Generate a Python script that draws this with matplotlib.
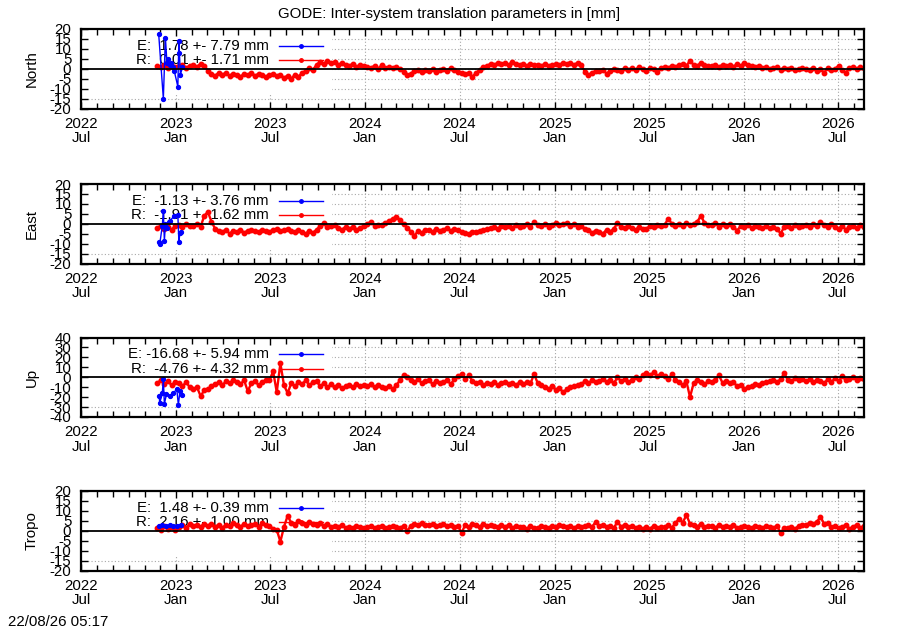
import numpy as np
import matplotlib
matplotlib.use('Agg')
import matplotlib.pyplot as plt
import matplotlib.dates as mdates
from matplotlib.patches import Rectangle

plt.rcParams['font.family'] = ['Liberation Sans', 'DejaVu Sans']
plt.rcParams['font.size'] = 10.8

TITLE = "GODE: Inter-system translation parameters in [mm]"
STAMP = "22/08/26 05:17"
panel_names = ["North", "East", "Up", "Tropo"]
ylims = [20, 20, 40, 20]
ysteps = [5, 5, 10, 5]
E_labels = ["E:  1.78 +- 7.79 mm", "E:  -1.13 +- 3.76 mm", "E: -16.68 +- 5.94 mm", "E:  1.48 +- 0.39 mm"]
R_labels = ["R:  0.01 +- 1.71 mm", "R:  -1.91 +- 1.62 mm", "R:  -4.76 +- 4.32 mm", "R:  2.16 +- 1.00 mm"]

# red (R) series: weekly samples starting 2022-11-25
red_start = "2022-11-25"
red_step_days = 7

north_red = [
    1.5, 1.0, 2.0, 0.5, 1.5, 1.0,
    1.5, 2.0, 0.5, 1.5, 2.0, 1.0, 2.5, 1.5, -1.0, -2.5, -3.5, -2.0, -3.0, -2.0, -3.5, -2.5,
    -3.0, -4.0, -2.5, -3.0, -2.0, -3.5, -2.5, -3.0, -4.0, -3.0, -2.5, -3.5, -3.0, -4.5,
    -3.5, -5.0, -3.0, -4.0, -2.0, -1.0, 0.5, -0.5, 2.0, 3.5, 2.5, 4.0, 3.0,
    3.5, 2.0, 3.0, 2.0, 1.5, 2.5, 1.0, 2.0, 1.5,
    1.0, 0.5, 1.5, 0.0, 2.0, 0.5, 1.0, 0.5, 1.0, 0.0, -1.5, -3.0, -2.5, -1.0, -0.5, -1.5, -0.5,
    -1.0, 0.0, -1.5, -0.5, 0.0, -1.0, 0.5, -0.5, -1.5, -2.0, -2.5, -2.0, -4.0,
    -2.0, -0.5, 1.0, 1.5, 2.5, 2.0, 3.0, 2.5, 3.0, 2.0, 3.5, 2.5, 2.0,
    2.5, 1.5, 2.5, 2.0, 2.0, 1.5, 2.5, 1.5, 2.0,
    2.5, 2.0, 3.0, 2.5, 3.0, 2.0, 3.0, 2.0, -1.5, -3.0, -2.0, -1.0, -1.0, -0.5, -2.5, -1.0, 0.0,
    -0.5, -1.0, 0.5, -0.5, 0.5, -0.5, 1.0, 0.0, -1.0, 0.5, 0.0, -1.5, 0.5,
    1.0, 0.5, 1.5, 1.0, 2.0, 2.5, 1.5, 4.0, 2.0, 1.5, 3.0, 2.0, 1.5,
    1.5, 2.0, 1.0, 2.0, 1.5, 2.0, 1.0, 2.5, 1.5,
    3.0, 2.0, 1.5, 1.0, 1.5, 0.5, 1.0, 0.0, 0.5, 1.0, -0.5, 0.5, 0.0, 0.5, -0.5, 0.0, 0.5,
    0.0, -0.5, 0.5, -1.0, 0.0, -2.0, 0.5, -0.5, 0.0, 1.5, -0.5, -2.0, 0.5,
    1.0, 0.0, 1.0, 0.5,
]

east_red = [
    -2.0, -1.0, -2.5, -1.5, -3.0, -1.0,
    -0.5, -1.5, 0.0, -1.0, -1.0, 0.0, -1.5, 4.0, 6.0, 1.0, -2.5, -3.5, -4.0, -3.0, -5.0, -3.5,
    -4.0, -3.0, -4.5, -3.5, -3.0, -3.5, -4.0, -3.0, -3.5, -4.0, -3.0, -2.5, -3.5, -3.0,
    -2.5, -3.5, -4.0, -3.0, -4.0, -5.0, -3.5, -4.5, -3.0, -1.0, 0.5, -1.5, -1.0,
    -0.5, -2.0, -3.0, -1.5, -2.5, -1.5, -3.0, -2.0, -1.0,
    0.0, 1.0, -1.0, -0.5, -0.5, 0.5, 1.5, 2.5, 3.5, 2.0, 0.0, -2.0, -4.0, -6.0, -3.5, -4.5, -3.0,
    -3.0, -4.0, -2.5, -3.5, -3.0, -2.0, -3.5, -2.5, -3.0, -4.0, -4.5, -5.0, -4.0,
    -4.0, -3.5, -3.0, -2.5, -2.0, -1.5, -2.5, -1.0, -1.5, -1.0, -2.0, -0.5, -1.5,
    -1.0, 0.0, -1.5, 1.0, -0.5, -1.0, 0.0, -1.5, -0.5,
    0.5, -0.5, 0.0, 0.5, -1.0, 0.0, -1.5, -1.0, -2.5, -3.0, -4.5, -3.5, -4.0, -5.0, -3.0, -4.0, -2.5,
    0.5, -1.5, -2.0, -1.0, -2.0, -3.0, -1.5, -2.5, -2.5, -1.0, -1.5, -0.5, -1.0,
    -0.5, 2.5, 0.0, -1.0, 0.0, -1.0, 0.5, -0.5, 0.0, 1.0, 4.0, 0.5, -0.5,
    -0.5, 0.5, -1.5, 0.0, -1.0, 0.0, -1.5, -3.5, -1.0,
    -1.5, -0.5, -2.0, -1.0, -1.5, -2.0, -1.0, -2.0, -1.5, -2.5, -5.0, -1.5, -1.0, -2.0, -0.5, -1.5, -1.0,
    -0.5, -1.5, 0.0, -1.0, 1.0, -0.5, -1.5, 0.0, -1.5, -2.5, -1.0, -3.0, -1.5,
    -1.0, -2.0, -0.5, -1.5,
]

up_red = [
    -6.0, -3.0, -7.0, -4.0, -8.0, -5.0,
    -6.0, -9.0, -5.0, -10.0, -12.0, -10.0, -19.0, -13.0, -12.0, -9.0, -7.0, -5.0, -8.0, -4.0, -6.0, -3.0,
    -5.0, -7.0, -3.0, -14.0, -6.0, -4.0, -8.0, -5.0, -3.0, -3.0, 6.0, -15.0, 14.0, -8.0,
    -16.0, -6.0, -9.0, -5.0, -7.0, -3.0, -8.0, -5.0, -4.0, -9.0, -6.0, -10.0, -7.0,
    -10.0, -8.0, -11.0, -9.0, -8.0, -10.0, -7.0, -9.0, -8.0,
    -9.0, -7.0, -10.0, -8.0, -10.0, -11.0, -9.0, -12.0, -8.0, -3.0, 2.0, 0.0, -3.0, -5.0, -2.0, -6.0, -4.0,
    -3.0, -7.0, -4.0, -6.0, -5.0, -3.0, -7.0, -2.0, 1.0, 3.0, -2.0, 2.0, -4.0,
    -6.0, -5.0, -8.0, -6.0, -7.0, -5.0, -8.0, -6.0, -5.0, -7.0, -6.0, -8.0, -5.0,
    -7.0, -5.0, -6.0, 3.0, -6.0, -8.0, -10.0, -12.0, -9.0,
    -13.0, -11.0, -15.0, -12.0, -10.0, -9.0, -8.0, -7.0, -4.0, -6.0, -3.0, -5.0, -4.0, -2.0, -5.0, -3.0, -6.0,
    0.0, -4.0, -2.0, -5.0, -3.0, 0.0, -2.0, 2.0, 4.0, 2.0, 5.0, 1.0, 3.0,
    1.0, -2.0, 3.0, -3.0, -5.0, -8.0, -4.0, -20.0, -6.0, -3.0, -5.0, -7.0, -4.0,
    -5.0, -3.0, 2.0, -6.0, -4.0, -6.0, -5.0, -9.0, -8.0,
    -12.0, -10.0, -9.0, -7.0, -8.0, -6.0, -5.0, -4.0, -3.0, -5.0, -2.0, 4.0, -3.0, -4.0, -1.0, -3.0, -2.0,
    -4.0, -2.0, -5.0, -3.0, -4.0, -6.0, -2.0, -5.0, -1.0, -4.0, 1.0, -3.0, -2.0,
    0.0, -3.0, -1.0, -2.0,
]

tropo_red = [
    1.5, 0.5, 2.5, 1.0, 2.0, 0.5,
    2.0, 3.0, 1.5, 3.5, 2.5, 3.0, 2.0, 3.5, 2.5, 3.5, 2.0, 3.0, 1.5, 3.0, 2.5, 4.0,
    3.0, 2.0, 3.5, 2.5, 3.0, 3.5, 2.0, 4.0, 3.0, 2.5, 1.0, 0.5, -5.5, 2.0,
    7.5, 4.0, 3.0, 5.0, 4.0, 3.0, 4.5, 3.5, 3.0, 4.0, 2.5, 3.5, 2.0,
    2.5, 2.0, 3.0, 1.5, 2.0, 1.5, 2.5, 2.0, 1.5,
    2.0, 2.5, 1.5, 2.0, 2.5, 1.5, 2.0, 2.5, 2.0, 1.5, 2.5, 0.0, 2.5, 3.5, 3.0, 4.0, 3.0,
    3.0, 3.5, 2.5, 3.0, 3.5, 2.5, 3.0, 2.0, 2.5, -1.0, 3.0, 2.0, 3.5,
    3.0, 2.0, 3.5, 2.5, 3.0, 2.5, 2.0, 3.0, 2.0, 3.0, 1.5, 2.5, 2.0,
    2.0, 1.0, 2.5, 1.5, 1.5, 2.5, 2.0, 1.5, 2.5,
    2.0, 3.0, 2.5, 2.0, 2.5, 1.5, 2.5, 2.0, 2.5, 3.0, 2.0, 4.5, 2.5, 3.0, 2.0, 2.5, 1.5,
    4.5, 2.0, 3.0, 2.0, 2.5, 1.5, 2.0, 1.0, 2.0, 1.0, 2.5, 1.5, 2.0,
    2.0, 3.0, 1.5, 4.0, 6.0, 4.0, 8.0, 3.5, 3.0, 2.0, 3.5, 2.0, 2.5,
    2.5, 1.5, 3.0, 2.0, 2.5, 2.0, 3.0, 1.5, 2.0,
    2.5, 2.0, 1.5, 2.5, 2.0, 1.5, 2.5, 2.0, 1.5, 2.5, -1.0, 1.5, 1.5, 2.0, 1.0, 2.5, 3.0,
    3.0, 4.0, 3.5, 4.5, 7.0, 3.5, 4.0, 2.0, 2.5, 1.5, 2.0, 3.0, 1.0,
    2.0, 3.0, 1.5, 2.5,
]

# blue (E) series: irregular dates
north_blue_dates = ["2022-11-28", "2022-12-07", "2022-12-11", "2022-12-14", "2022-12-16", "2022-12-19",
                    "2022-12-22", "2022-12-25", "2022-12-28", "2023-01-04", "2023-01-06", "2023-01-07",
                    "2023-01-09", "2023-01-13"]
north_blue = [17.5, -15.0, 15.5, 3.0, 5.0, 2.0, 3.0, 1.0, -1.0, -9.0, 14.0, 8.0, -3.0, 1.0]

east_blue_dates = ["2022-11-28", "2022-11-30", "2022-12-05", "2022-12-07", "2022-12-09", "2022-12-11",
                   "2022-12-14", "2022-12-17", "2022-12-20", "2022-12-28", "2023-01-04", "2023-01-06",
                   "2023-01-08", "2023-01-10"]
east_blue = [-9.3, -10.3, -1.0, 6.5, -8.6, 0.0, -2.0, 1.0, 1.5, 4.0, 4.5, -9.0, -4.7, -4.3]

up_blue_dates = ["2022-11-29", "2022-11-30", "2022-12-05", "2022-12-07", "2022-12-09", "2022-12-13",
                 "2022-12-20", "2022-12-26", "2023-01-02", "2023-01-05", "2023-01-08", "2023-01-13"]
up_blue = [-18.6, -26.0, -16.0, -2.0, -27.0, -17.0, -18.6, -16.0, -12.0, -28.0, -14.0, -18.0]

tropo_blue_dates = ["2022-11-28", "2022-12-05", "2022-12-12", "2022-12-19", "2022-12-26", "2023-01-02",
                    "2023-01-10"]
tropo_blue = [2.5, 3.0, 2.5, 2.8, 2.6, 2.5, 3.0]

red_series = [north_red, east_red, up_red, tropo_red]
blue_series = [(north_blue_dates, north_blue), (east_blue_dates, east_blue),
               (up_blue_dates, up_blue), (tropo_blue_dates, tropo_blue)]

XMIN = np.datetime64("2022-07-01")
XMAX = np.datetime64("2026-08-21")

W, H = 900, 630
fig = plt.figure(figsize=(9, 6.3), dpi=100)

L, R = 81, 864
tops = [29, 184, 337.5, 491]
PH = 79.5

RED = (1, 0, 0)
BLUE = (0, 0, 1)

for k in range(4):
    top = tops[k]
    ax = fig.add_axes([L / W, 1 - (top + PH) / H, (R - L) / W, PH / H])
    ylim = ylims[k]
    ax.set_ylim(-ylim, ylim)
    ax.set_xlim(XMIN, XMAX)

    yt = np.arange(-ylim, ylim + 1, ysteps[k])
    ax.set_yticks(yt)
    ax.set_yticklabels([str(v) for v in yt])
    ax.xaxis.set_major_locator(mdates.MonthLocator(bymonth=[1, 7]))
    ax.xaxis.set_minor_locator(mdates.MonthLocator())
    ax.xaxis.set_major_formatter(mdates.DateFormatter("%Y\n%b"))

    ax.tick_params(which='both', direction='in', top=True, right=True, width=1)
    ax.tick_params(which='major', length=5)
    ax.tick_params(which='minor', length=4)
    ax.tick_params(axis='x', pad=6)
    ax.tick_params(axis='y', pad=7)
    for lab in ax.get_xticklabels():
        lab.set_linespacing(1.05)
    for s in ax.spines.values():
        s.set_linewidth(1.6)
        s.set_zorder(7)

    # grid (dotted), drawn manually under the opaque key box
    for v in yt[1:-1]:
        ax.axhline(v, color='#a8a8a8', lw=0.8, ls=(0, (1, 2)), zorder=1)
    for d in ax.xaxis.get_major_locator()():
        ax.axvline(d, color='#a8a8a8', lw=0.8, ls=(0, (1, 2)), zorder=1)

    # opaque key box
    ax.add_patch(Rectangle((0, 0.19), 0.32, 0.81, transform=ax.transAxes,
                           facecolor='white', edgecolor='none', zorder=1.2))

    # key entries
    for row, (txt, col) in enumerate([(E_labels[k], BLUE), (R_labels[k], RED)]):
        yy = 0.79 - 0.185 * row
        ax.text(0.240, yy, txt, transform=ax.transAxes, ha='right', va='center', zorder=3)
        ax.plot([0.253, 0.309], [yy, yy], color=col, lw=1, transform=ax.transAxes, zorder=3)
        ax.plot([0.281], [yy], 'o', color=col, ms=2.5, transform=ax.transAxes, zorder=3)

    # data
    vals = red_series[k]
    rd = np.datetime64(red_start) + np.arange(len(vals)) * np.timedelta64(red_step_days, 'D')
    ax.plot(rd, vals, '-o', color=RED, lw=1.7, ms=3.2, zorder=4, clip_on=True)
    bd, bv = blue_series[k]
    ax.plot(np.array(bd, dtype='datetime64[D]'), bv, '-o', color=BLUE, lw=1.0, ms=2.8, zorder=5)

    # zero line on top of data
    ax.axhline(0, color='black', lw=1.3, zorder=6)

    ax.text(-0.0626, 0.5, panel_names[k], rotation=90, ha='center', va='center',
            transform=ax.transAxes)

fig.text(449.5 / W, 1 - 14 / H, TITLE, ha='center', va='center')
fig.text(8 / W, 1 - 622 / H, STAMP, ha='left', va='center')

fig.savefig("out.png", dpi=100)
